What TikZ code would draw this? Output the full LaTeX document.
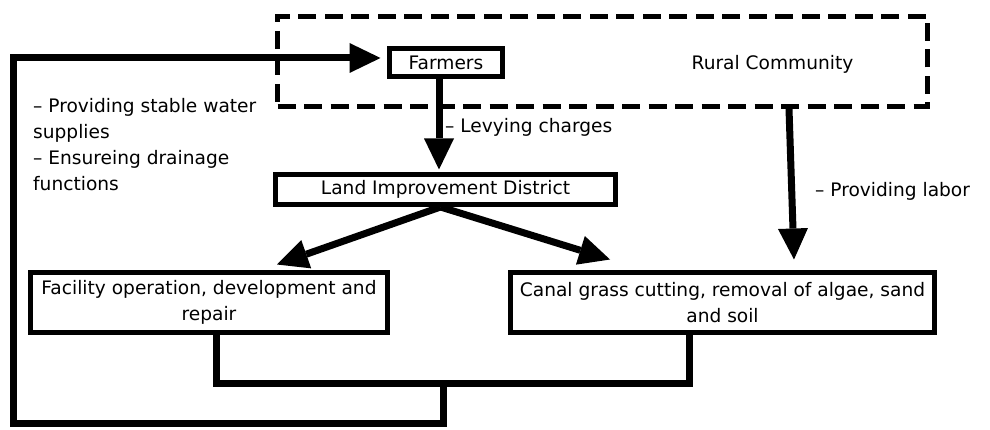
\documentclass[tikz,border=0pt]{standalone}
\usepackage{fontspec}
\setmainfont{DejaVu Sans}
\usepackage{tikz}
\usetikzlibrary{positioning,arrows.meta}

\begin{document}
\begin{tikzpicture} [x=1pt,y=-1pt,>={Triangle[length=31pt,width=30pt,line width=0pt]},
    every node/.style={font=\fontsize{18.6}{26}\selectfont, inner sep=0pt},
    box/.style={rectangle, draw, line width=5pt, align=center},
    group/.style={rectangle, draw, line width=5pt, dash pattern=on 18pt off 8.5pt},
    con/.style={->, line width=7pt},
    link/.style={line width=7pt},
    note/.style={align=left}
    ]
    \useasboundingbox (0,0) rectangle (990,430);
    \node (rural) [group, minimum width=650pt, minimum height=90pt] at (602.5,61.5) {};
    \node (ruraltxt) [anchor=base] at (772.5,70) {Rural Community};
    \node (farm) [box, fill=white, minimum width=113pt, minimum height=28pt] at (446,62.5) {Farmers};
    \node (lid) [box, minimum width=340pt, minimum height=30pt] at (445.5,189.5)
     {Land Improvement District};
    \node (fac) [box, minimum width=357pt, minimum height=60pt] at (209,302.5)
     {Facility operation, development and\\ repair};
    \node (canal) [box, minimum width=424pt, minimum height=60pt, right=118pt of fac]
     {Canal grass cutting, removal of algae, sand\\ and soil};
    \node (levy) [anchor=base west] at (445,133) {– Levying charges};
    \node (labor) [anchor=base west] at (815,197) {– Providing labor};
    \node (water) [note, anchor=north west] at (33,98)
     {– Providing stable water\\ supplies\\ – Ensureing drainage\\ functions};

    \coordinate (jn) at (443,383);
    \coordinate (lp) at (13,423);

     \draw [con] ([xshift=-7pt]farm.south) -- ([xshift=-6.5pt,yshift=2.5pt]lid.north);
     \draw [con] ([xshift=-5pt]lid.south) -- ([xshift=68pt,yshift=5.5pt]fac.north);
     \draw [con] ([xshift=-5pt]lid.south) -- ([xshift=-112.5pt,yshift=10.5pt]canal.north);
     \draw [con] ([xshift=186.5pt]rural.south) -- ([xshift=71.5pt,yshift=10.5pt]canal.north);
     \draw [link] ([xshift=7pt]fac.south) |- (jn) -| ([xshift=-33.5pt]canal.south);
     \draw [con] (jn) |- (lp) |- ([xshift=-6.5pt,yshift=4.5pt]farm.west);
  \end{tikzpicture}
\end{document}
